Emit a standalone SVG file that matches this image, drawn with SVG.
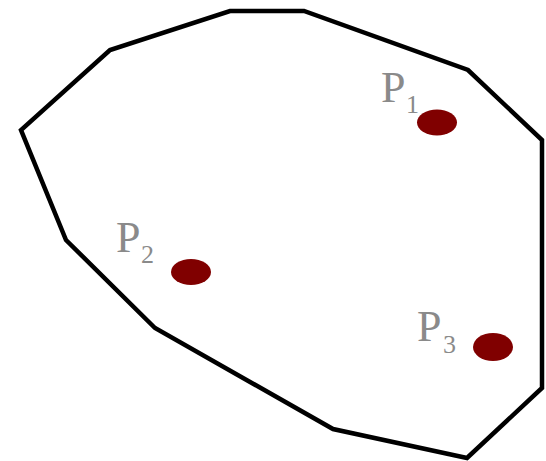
<svg xmlns="http://www.w3.org/2000/svg" width="546" height="461" viewBox="0 0 546 461">
<style>
.hull{fill:none;stroke:#000;stroke-width:4.5;stroke-linejoin:miter}
.pt{fill:#800000}
.lbl{font-family:"Liberation Serif","Times New Roman",serif;fill:#8a8a8a;font-size:44px}
.sub{font-size:26px}
</style>
<rect width="546" height="461" fill="#fff"/>
<g id="hull">
<polygon class="hull" points="230,11 304,11 468,70 542,140 542,388 467,458 333,429 155,328 66,240 21,130 110,50"/>
</g>
<g id="p1">
<ellipse class="pt" cx="437" cy="122.5" rx="20" ry="13"/>
<text class="lbl" x="381" y="102">P<tspan class="sub" x="406" y="113">1</tspan></text>
</g>
<g id="p2">
<ellipse class="pt" cx="191" cy="272" rx="20" ry="13"/>
<text class="lbl" x="116" y="252">P<tspan class="sub" x="141" y="263">2</tspan></text>
</g>
<g id="p3">
<ellipse class="pt" cx="493" cy="347" rx="20" ry="14"/>
<text class="lbl" x="417" y="341">P<tspan class="sub" x="443" y="353">3</tspan></text>
</g>
</svg>
